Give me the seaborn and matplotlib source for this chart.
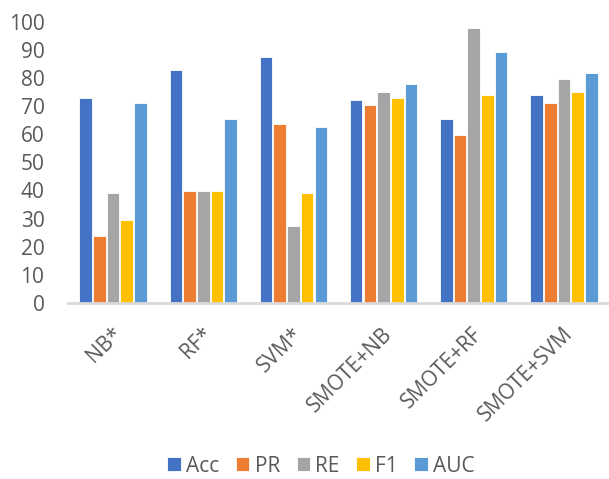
import matplotlib
matplotlib.use("Agg")
import matplotlib.pyplot as plt
import matplotlib.transforms as mtransforms
import seaborn as sns
import pandas as pd

models = ["NB*", "RF*", "SVM*", "SMOTE+NB", "SMOTE+RF", "SMOTE+SVM"]
metrics = ["Acc", "PR", "RE", "F1", "AUC"]
acc = [73, 82.6, 87.3, 72.1, 65.4, 74]
pr = [23.8, 39.8, 63.5, 70.2, 59.8, 71.2]
re = [39, 39.8, 27.5, 75, 97.8, 79.7]
f1 = [29.5, 39.8, 39, 73, 74, 75]
auc = [71, 65.5, 62.5, 77.7, 89.2, 81.6]
yticks = list(range(0, 101, 10))
palette = ["#4472C4", "#ED7D31", "#A5A5A5", "#FFC000", "#5B9BD5"]

rows = []
for name, vals in zip(metrics, [acc, pr, re, f1, auc]):
    for m, v in zip(models, vals):
        rows.append({"Model": m, "Metric": name, "Value": v})
df = pd.DataFrame(rows)

sns.set_theme(style="white")
plt.rcParams["font.family"] = ["Open Sans", "DejaVu Sans"]

fig = plt.figure(figsize=(6.09, 4.79), dpi=100)
ax = fig.add_axes([68 / 609, 1 - 303 / 479, 1 - 68 / 609, (303 - 21.5) / 479])

sns.barplot(data=df, x="Model", y="Value", hue="Metric", order=models,
            hue_order=metrics, palette=palette, width=0.76, gap=0.08,
            edgecolor="white", linewidth=0.6, saturation=1, ax=ax)

ax.set_ylim(0, 100)
ax.set_xlim(-0.5, 5.5)
ax.set_yticks(yticks)
ax.set_xlabel("")
ax.set_ylabel("")
for s in ["top", "right", "left"]:
    ax.spines[s].set_visible(False)
ax.spines["bottom"].set_color("#D9D9D9")
ax.spines["bottom"].set_linewidth(2)
ax.tick_params(axis="both", length=0, colors="#595959", labelsize=15)
ax.tick_params(axis="y", pad=17)
ax.tick_params(axis="x", pad=20)
# nudge the rotated category labels a little to the right
shift = mtransforms.ScaledTranslation(4 / 72, 0, fig.dpi_scale_trans)
for lab in ax.get_xticklabels():
    lab.set_rotation(45)
    lab.set_ha("right")
    lab.set_va("center")
    lab.set_rotation_mode("anchor")
    lab.set_transform(lab.get_transform() + shift)

ax.legend_.remove()
handles, labels = ax.get_legend_handles_labels()
fig.legend(handles, labels, loc="center", bbox_to_anchor=(321 / 609, 1 - 466 / 479),
           ncol=5, frameon=False, fontsize=15, handlelength=0.65, handleheight=0.65,
           handletextpad=0.25, columnspacing=0.8, labelcolor="#595959",
           borderpad=0.1)

fig.savefig("out.png", dpi=100)
